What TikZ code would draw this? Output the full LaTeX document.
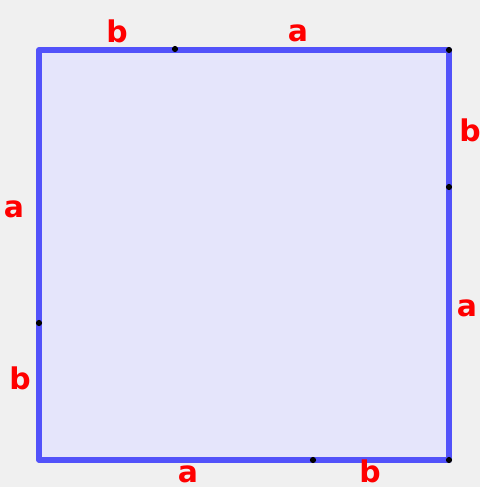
\documentclass[tikz,border=0pt]{standalone}
\usepackage{fontspec}
\newfontfamily\lblfont{DejaVu Sans}
\definecolor{bgray}{RGB}{240,240,240}
\definecolor{sqfill}{RGB}{229,229,251}
\definecolor{sqedge}{RGB}{82,82,250}
\tikzset{
  side/.style={draw=sqedge, line width=3.3pt, line join=round, fill=sqfill},
  pt/.style={circle, fill=black, inner sep=0pt, minimum size=3.5pt},
  lbl/.style={text=red, font=\lblfont\bfseries\fontsize{17}{20}\selectfont, inner sep=0pt}
}
\begin{document}
\begin{tikzpicture}[x=0.02cm, y=-0.02cm]
  \fill[bgray] (0,0) rectangle (480,487);
  \useasboundingbox (0,0) rectangle (480,487);
  % corners of the square
  \coordinate (tl) at (39,50);
  \coordinate (tr) at (449,50);
  \coordinate (br) at (449,460);
  \coordinate (bl) at (39,460);
  \draw[side] (tl) -- (tr) -- (br) -- (bl) -- cycle;
  % division points
  \node[pt] (ptop) at (175,49) {};
  \node[pt] (ptr) at (tr) {};
  \node[pt] (pright) at (449,187) {};
  \node[pt] (pleft) at (39,323) {};
  \node[pt] (pbot) at (313,460) {};
  \node[pt] (pbr) at (br) {};
  % lengths
  \node[lbl] (topb) at (117,31) {b};
  \node[lbl] (topa) at (298,33) {a};
  \node[lbl] (rightb) at (470,130) {b};
  \node[lbl] (righta) at (467,308) {a};
  \node[lbl] (lefta) at (14,209) {a};
  \node[lbl] (leftb) at (20,378) {b};
  \node[lbl] (bota) at (188,474) {a};
  \node[lbl] (botb) at (370,471) {b};
\end{tikzpicture}
\end{document}
